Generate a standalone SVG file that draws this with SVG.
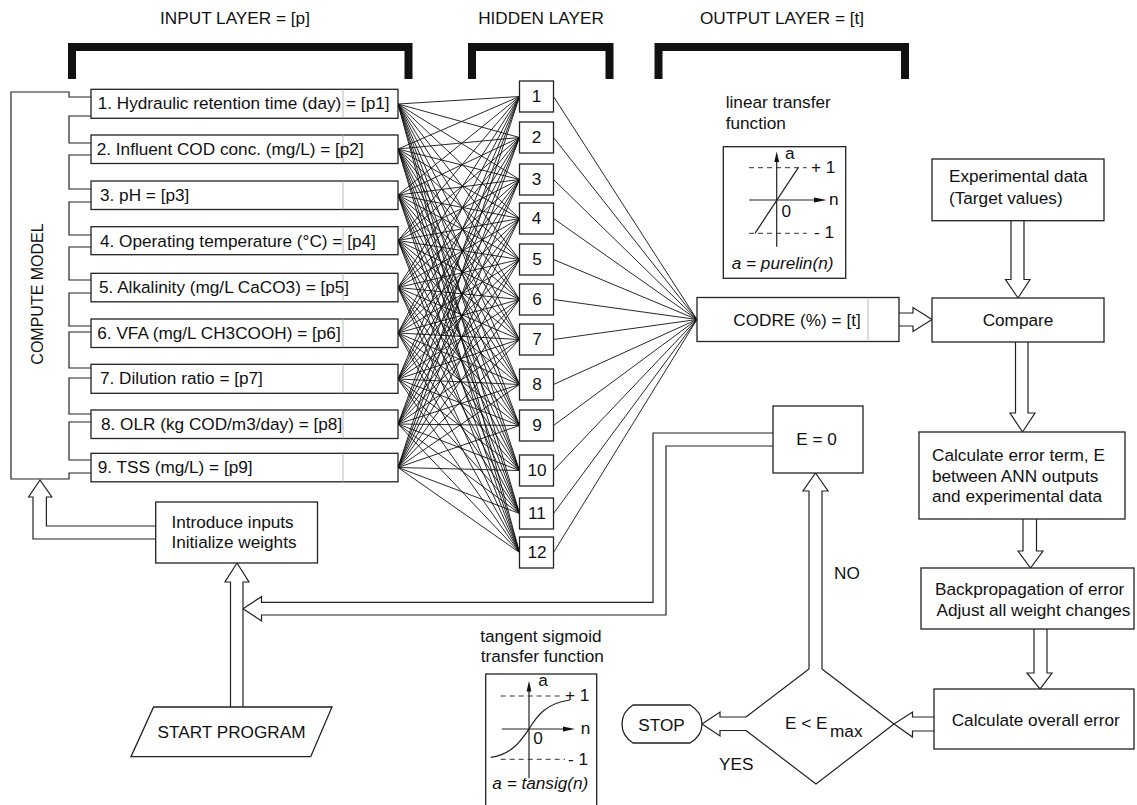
<svg xmlns="http://www.w3.org/2000/svg" width="1137" height="805" viewBox="0 0 1137 805">
<style>
.t{font-family:"Liberation Sans",Arial,Helvetica,sans-serif;font-size:17.2px;fill:#111}
.ti{font-family:"Liberation Sans",Arial,Helvetica,sans-serif;font-size:17.2px;fill:#111;font-style:italic}
.box{fill:#fff;stroke:#222;stroke-width:1.3}
.ln{fill:none;stroke:#222;stroke-width:1.2}
.w{fill:none;stroke:#111;stroke-width:0.9}
.arr{fill:#fff;stroke:#222;stroke-width:1.2;stroke-linejoin:miter}
.br{fill:none;stroke:#111;stroke-width:8;stroke-linejoin:miter}
.dash{stroke:#333;stroke-width:1;stroke-dasharray:5 4}
.fa{fill:#111;stroke:none}
.div{stroke:#aaa;stroke-width:0.8}
</style>
<rect width="1137" height="805" fill="#fff"/>

<g id="headers">
<text class="t" x="235" y="24" text-anchor="middle">INPUT LAYER = [p]</text>
<text class="t" x="541" y="24" text-anchor="middle">HIDDEN LAYER</text>
<text class="t" x="782" y="24" text-anchor="middle">OUTPUT LAYER = [t]</text>
<path class="br" d="M72,79 V47 H408.5 V79"/>
<path class="br" d="M472,79 V47 H609.5 V79"/>
<path class="br" d="M658.5,79 V47 H905 V79"/>
</g>

<g id="connectors">
<g class="w">
<path d="M398,104 L519.5,96.5 M398,104 L519.5,137.5 M398,104 L519.5,179.5 M398,104 L519.5,218.5 M398,104 L519.5,259.5 M398,104 L519.5,299.5 M398,104 L519.5,339.5 M398,104 L519.5,384.5 M398,104 L519.5,425.5 M398,104 L519.5,470.5 M398,104 L519.5,513.5 M398,104 L519.5,552.5"/>
<path d="M398,149 L519.5,96.5 M398,149 L519.5,137.5 M398,149 L519.5,179.5 M398,149 L519.5,218.5 M398,149 L519.5,259.5 M398,149 L519.5,299.5 M398,149 L519.5,339.5 M398,149 L519.5,384.5 M398,149 L519.5,425.5 M398,149 L519.5,470.5 M398,149 L519.5,513.5 M398,149 L519.5,552.5"/>
<path d="M398,195 L519.5,96.5 M398,195 L519.5,137.5 M398,195 L519.5,179.5 M398,195 L519.5,218.5 M398,195 L519.5,259.5 M398,195 L519.5,299.5 M398,195 L519.5,339.5 M398,195 L519.5,384.5 M398,195 L519.5,425.5 M398,195 L519.5,470.5 M398,195 L519.5,513.5 M398,195 L519.5,552.5"/>
<path d="M398,240.5 L519.5,96.5 M398,240.5 L519.5,137.5 M398,240.5 L519.5,179.5 M398,240.5 L519.5,218.5 M398,240.5 L519.5,259.5 M398,240.5 L519.5,299.5 M398,240.5 L519.5,339.5 M398,240.5 L519.5,384.5 M398,240.5 L519.5,425.5 M398,240.5 L519.5,470.5 M398,240.5 L519.5,513.5 M398,240.5 L519.5,552.5"/>
<path d="M398,287.5 L519.5,96.5 M398,287.5 L519.5,137.5 M398,287.5 L519.5,179.5 M398,287.5 L519.5,218.5 M398,287.5 L519.5,259.5 M398,287.5 L519.5,299.5 M398,287.5 L519.5,339.5 M398,287.5 L519.5,384.5 M398,287.5 L519.5,425.5 M398,287.5 L519.5,470.5 M398,287.5 L519.5,513.5 M398,287.5 L519.5,552.5"/>
<path d="M398,333 L519.5,96.5 M398,333 L519.5,137.5 M398,333 L519.5,179.5 M398,333 L519.5,218.5 M398,333 L519.5,259.5 M398,333 L519.5,299.5 M398,333 L519.5,339.5 M398,333 L519.5,384.5 M398,333 L519.5,425.5 M398,333 L519.5,470.5 M398,333 L519.5,513.5 M398,333 L519.5,552.5"/>
<path d="M398,379 L519.5,96.5 M398,379 L519.5,137.5 M398,379 L519.5,179.5 M398,379 L519.5,218.5 M398,379 L519.5,259.5 M398,379 L519.5,299.5 M398,379 L519.5,339.5 M398,379 L519.5,384.5 M398,379 L519.5,425.5 M398,379 L519.5,470.5 M398,379 L519.5,513.5 M398,379 L519.5,552.5"/>
<path d="M398,424 L519.5,96.5 M398,424 L519.5,137.5 M398,424 L519.5,179.5 M398,424 L519.5,218.5 M398,424 L519.5,259.5 M398,424 L519.5,299.5 M398,424 L519.5,339.5 M398,424 L519.5,384.5 M398,424 L519.5,425.5 M398,424 L519.5,470.5 M398,424 L519.5,513.5 M398,424 L519.5,552.5"/>
<path d="M398,467.5 L519.5,96.5 M398,467.5 L519.5,137.5 M398,467.5 L519.5,179.5 M398,467.5 L519.5,218.5 M398,467.5 L519.5,259.5 M398,467.5 L519.5,299.5 M398,467.5 L519.5,339.5 M398,467.5 L519.5,384.5 M398,467.5 L519.5,425.5 M398,467.5 L519.5,470.5 M398,467.5 L519.5,513.5 M398,467.5 L519.5,552.5"/>
<path d="M553.5,96.5 L697,319.5 M553.5,137.5 L697,319.5 M553.5,179.5 L697,319.5 M553.5,218.5 L697,319.5 M553.5,259.5 L697,319.5 M553.5,299.5 L697,319.5 M553.5,339.5 L697,319.5 M553.5,384.5 L697,319.5 M553.5,425.5 L697,319.5 M553.5,470.5 L697,319.5 M553.5,513.5 L697,319.5 M553.5,552.5 L697,319.5"/>
</g>
<polyline class="arr" points="899,313 913,313 913,307.5 932,319.5 913,331.5 913,326 899,326"/>
<polyline class="arr" points="1011,220.7 1011,279.5 1005.5,279.5 1018,298 1030,279.5 1024,279.5 1024,220.7"/>
<polyline class="arr" points="1015.5,342 1015.5,413 1010,413 1022.5,432 1035,413 1028,413 1028,342"/>
<polyline class="arr" points="1023,519 1023,551 1018,551 1030.5,568 1043,551 1036.5,551 1036.5,519"/>
<polyline class="arr" points="1034,629 1034,673 1027,673 1040,689 1052,673 1047,673 1047,629"/>
<polyline class="arr" points="934,717 912.5,717 912.5,712 894,724 912.5,737 912.5,731 934,731"/>
<polyline class="arr" points="746,717 720,717 720,712 702,724 720,736 720,730.5 746,730.5"/>
<polyline class="arr" points="809,669 809,491 803,491 815.5,473 828,491 822,491 822,669"/>
<polyline class="arr" points="773,433 653,433 653,602.3 261.5,602.3 261.5,596.7 243,608.7 261.5,621 261.5,615 666,615 666,446 773,446"/>
<polyline class="arr" points="230.5,707 230.5,582 225,582 237,563 249,582 243,582 243,707"/>
<polyline class="arr" points="155.7,539 33,539 33,497 28.6,497 40,480 51.8,497 46.4,497 46.4,526 155.7,526"/>
</g>

<g id="compute-model">
<path class="ln" d="M91,97 H69 V92 H11 V479 H69 V473 H91 M91,116 H69 V143 H91 M91,155 H69 V189 H91 M91,202 H69 V235 H91 M91,247 H69 V280 H91 M91,293 H69 V326 H91 M91,332 H69 V368 H91 M91,378 H69 V414 H91 M91,422 H69 V460 H91"/>
<text class="t" transform="translate(43,294) rotate(-90)" text-anchor="middle" style="font-size:16px">COMPUTE MODEL</text>
</g>

<g id="input-p1"><rect class="box" x="91" y="89.3" width="307" height="29"/><line class="div" x1="343" y1="89.3" x2="343" y2="118.3"/><text class="t" x="97.7" y="109.3">1. Hydraulic retention time (day) = [p1]</text></g>
<g id="input-p2"><rect class="box" x="91" y="135" width="307" height="28.5"/><line class="div" x1="343" y1="135" x2="343" y2="163.5"/><text class="t" x="96.7" y="155">2. Influent COD conc. (mg/L) = [p2]</text></g>
<g id="input-p3"><rect class="box" x="91" y="181" width="307" height="28.5"/><line class="div" x1="343" y1="181" x2="343" y2="209.5"/><text class="t" x="100" y="201">3. pH = [p3]</text></g>
<g id="input-p4"><rect class="box" x="91" y="226.7" width="307" height="28"/><line class="div" x1="343" y1="226.7" x2="343" y2="254.7"/><text class="t" x="100" y="246.7">4. Operating temperature (°C) = [p4]</text></g>
<g id="input-p5"><rect class="box" x="91" y="273.3" width="307" height="28.5"/><line class="div" x1="343" y1="273.3" x2="343" y2="301.8"/><text class="t" x="99" y="293.3">5. Alkalinity (mg/L CaCO3) = [p5]</text></g>
<g id="input-p6"><rect class="box" x="91" y="319" width="307" height="28.5"/><line class="div" x1="343" y1="319" x2="343" y2="347.5"/><text class="t" x="97.3" y="339">6. VFA (mg/L CH3COOH) = [p6]</text></g>
<g id="input-p7"><rect class="box" x="91" y="364.3" width="307" height="29"/><line class="div" x1="343" y1="364.3" x2="343" y2="393.3"/><text class="t" x="100" y="384.3">7. Dilution ratio = [p7]</text></g>
<g id="input-p8"><rect class="box" x="91" y="410" width="307" height="28.5"/><line class="div" x1="343" y1="410" x2="343" y2="438.5"/><text class="t" x="101" y="430">8. OLR (kg COD/m3/day) = [p8]</text></g>
<g id="input-p9"><rect class="box" x="91" y="453.3" width="307" height="28.5"/><line class="div" x1="343" y1="453.3" x2="343" y2="481.8"/><text class="t" x="97.7" y="473.3">9. TSS (mg/L) = [p9]</text></g>

<g id="hidden-1"><rect class="box" x="519.5" y="81" width="34" height="31"/><text class="t" x="536.5" y="102" text-anchor="middle">1</text></g>
<g id="hidden-2"><rect class="box" x="519.5" y="122" width="34" height="31"/><text class="t" x="536.5" y="143" text-anchor="middle">2</text></g>
<g id="hidden-3"><rect class="box" x="519.5" y="164" width="34" height="31"/><text class="t" x="536.5" y="185" text-anchor="middle">3</text></g>
<g id="hidden-4"><rect class="box" x="519.5" y="203" width="34" height="31"/><text class="t" x="536.5" y="224" text-anchor="middle">4</text></g>
<g id="hidden-5"><rect class="box" x="519.5" y="244" width="34" height="31"/><text class="t" x="537" y="265" text-anchor="middle">5</text></g>
<g id="hidden-6"><rect class="box" x="519.5" y="284" width="34" height="31"/><text class="t" x="537" y="305" text-anchor="middle">6</text></g>
<g id="hidden-7"><rect class="box" x="519.5" y="324" width="34" height="31"/><text class="t" x="537" y="345" text-anchor="middle">7</text></g>
<g id="hidden-8"><rect class="box" x="519.5" y="369" width="34" height="31"/><text class="t" x="537" y="390" text-anchor="middle">8</text></g>
<g id="hidden-9"><rect class="box" x="519.5" y="410" width="34" height="31"/><text class="t" x="537" y="431" text-anchor="middle">9</text></g>
<g id="hidden-10"><rect class="box" x="519.5" y="455" width="34" height="31"/><text class="t" x="537" y="476" text-anchor="middle">10</text></g>
<g id="hidden-11"><rect class="box" x="519.5" y="498" width="34" height="31"/><text class="t" x="537" y="519" text-anchor="middle">11</text></g>
<g id="hidden-12"><rect class="box" x="519.5" y="537" width="34" height="31"/><text class="t" x="537" y="558" text-anchor="middle">12</text></g>

<g id="output-codre"><rect class="box" x="697" y="297.5" width="202" height="44"/><line class="div" x1="868" y1="297.5" x2="868" y2="341.5"/><text class="t" x="797" y="325.5" text-anchor="middle">CODRE (%) = [t]</text></g>

<g id="linear-transfer">
<text class="t" x="725.7" y="108">linear transfer</text>
<text class="t" x="725.7" y="129.3">function</text>
<rect class="box" x="723.3" y="146.7" width="122.4" height="131.6"/>
<line class="dash" x1="749" y1="167.7" x2="806.7" y2="167.7"/>
<line class="dash" x1="749" y1="233.3" x2="806.7" y2="233.3"/>
<line class="ln" x1="776.7" y1="160" x2="776.7" y2="246.7"/>
<polygon class="fa" points="774.3,162 776.7,151.5 779.1,162"/>
<line class="ln" x1="749" y1="200" x2="815" y2="200"/>
<polygon class="fa" points="814,197.6 826.7,200 814,202.4"/>
<line class="ln" x1="755" y1="233.3" x2="798.3" y2="167.7"/>
<text class="t" x="785" y="159">a</text>
<text class="t" x="829" y="205">n</text>
<text class="t" x="811" y="173">+ 1</text>
<text class="t" x="814" y="237.5">- 1</text>
<text class="t" x="781.5" y="217">0</text>
<text class="ti" x="731.7" y="269">a = purelin(n)</text>
</g>

<g id="tansig-transfer">
<text class="t" x="480.2" y="642">tangent sigmoid</text>
<text class="t" x="480.7" y="661.7">transfer function</text>
<rect class="box" x="485.7" y="674" width="111" height="132"/>
<line class="dash" x1="500.7" y1="696" x2="563" y2="696"/>
<line class="dash" x1="500.7" y1="759.3" x2="565" y2="759.3"/>
<line class="ln" x1="529" y1="690" x2="529" y2="778.3"/>
<polygon class="fa" points="526.6,691.5 529,680.7 531.4,691.5"/>
<line class="ln" x1="501.7" y1="729" x2="564" y2="729"/>
<polygon class="fa" points="563,726.6 575,729 563,731.4"/>
<path class="ln" d="M490.7,757.3 C512,754 520,742 529,729 C537,716 546,703 570,700"/>
<text class="t" x="538.3" y="685.7">a</text>
<text class="t" x="580.7" y="734">n</text>
<text class="t" x="565" y="700.5">+ 1</text>
<text class="t" x="568" y="765">- 1</text>
<text class="t" x="533.3" y="744">0</text>
<text class="ti" x="492.3" y="789.3">a = tansig(n)</text>
</g>

<g id="experimental-data"><rect class="box" x="932" y="159" width="172" height="61.7"/><text class="t" x="949" y="182">Experimental data</text><text class="t" x="949" y="203.5">(Target values)</text></g>
<g id="compare"><rect class="box" x="932" y="298" width="172" height="44"/><text class="t" x="1018" y="326" text-anchor="middle">Compare</text></g>
<g id="calc-error-term"><rect class="box" x="919" y="432" width="206" height="87"/><text class="t" x="932" y="461">Calculate error term, E</text><text class="t" x="932" y="481.5">between ANN outputs</text><text class="t" x="932" y="502">and experimental data</text></g>
<g id="backprop"><rect class="box" x="921" y="568" width="213" height="61"/><text class="t" x="935" y="595">Backpropagation of error</text><text class="t" x="936.5" y="615.7">Adjust all weight changes</text></g>
<g id="calc-overall"><rect class="box" x="934" y="689" width="200" height="60"/><text class="t" x="951.7" y="726">Calculate overall error</text></g>

<g id="decision">
<path class="ln" d="M809,669 L746,717 M746,730.5 L816,784 L894,724 L822,669"/>
<text class="t" x="785" y="729.3">E &lt; E</text>
<text class="t" x="830" y="736.5">max</text>
</g>
<g id="labels">
<text class="t" x="834" y="578.5">NO</text>
<text class="t" x="719" y="769.5">YES</text>
</g>

<g id="e-zero"><rect class="box" x="773" y="406" width="90" height="67"/><text class="t" x="816.5" y="445" text-anchor="middle">E = 0</text></g>
<g id="stop"><path class="box" d="M633,705 H690 Q702,712 702,724 Q702,736 690,743 H633 Q622,736 622,724 Q622,712 633,705 Z"/><text class="t" x="661.5" y="730.5" text-anchor="middle">STOP</text></g>
<g id="introduce"><rect class="box" x="155.7" y="502" width="161.8" height="61"/><text class="t" x="171.4" y="528">Introduce inputs</text><text class="t" x="171.4" y="548.3">Initialize weights</text></g>
<g id="start"><polygon class="box" points="153.6,707 332,707 310.7,756.7 131,756.7"/><text class="t" x="231.5" y="738" text-anchor="middle">START PROGRAM</text></g>
</svg>
